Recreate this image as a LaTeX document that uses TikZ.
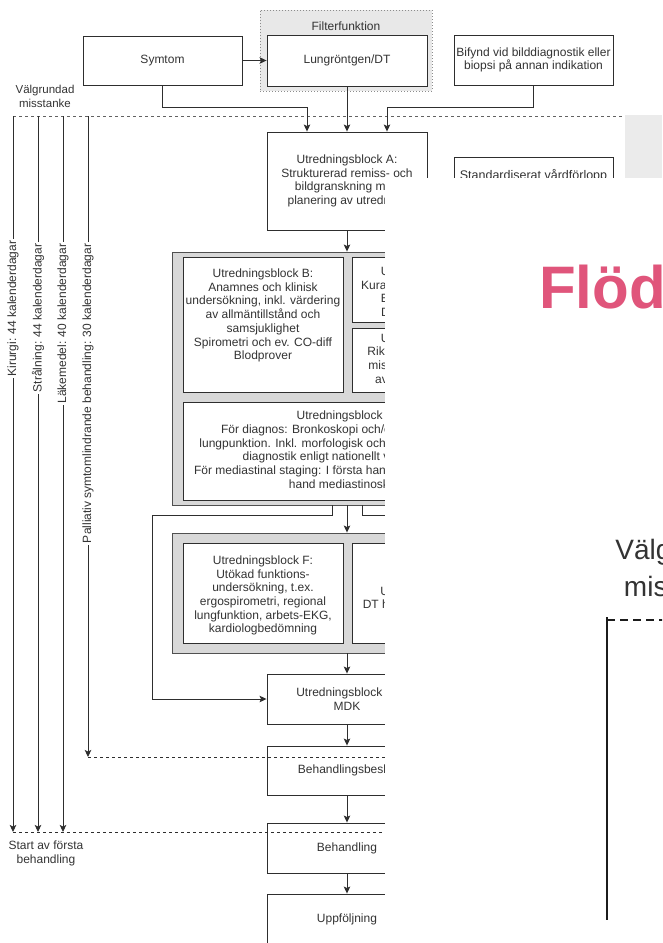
\documentclass[tikz,border=0pt]{standalone}
\usepackage{fontspec}
\setmainfont{Liberation Sans}
\usetikzlibrary{arrows.meta}

\definecolor{ink}{HTML}{333333}
\definecolor{edge}{HTML}{2E2E2E}
\definecolor{panel}{HTML}{D8D8D8}
\definecolor{panelline}{HTML}{505050}
\definecolor{filterfill}{HTML}{E8E8E8}
\definecolor{filterline}{HTML}{8C8C8C}
\definecolor{titlepink}{HTML}{E0557B}
\definecolor{cornergray}{HTML}{EBEBEB}
\definecolor{bigink}{HTML}{1C1C1C}

\tikzset{
  boxtxt/.style={font=\fontsize{12}{13.7}\selectfont, text=ink, align=center, inner sep=0pt},
  stepbox/.style={boxtxt, draw=edge, fill=white, line width=0.9pt,
                  minimum width=160pt, minimum height=50pt},
  group/.style={draw=panelline, fill=panel, line width=0.9pt, inner sep=0pt},
  flow/.style={draw=edge, line width=0.9pt, -{Stealth[length=7pt,width=6.5pt,inset=1.5pt]}},
  milestone/.style={draw=edge, line width=0.8pt, dash pattern=on 3pt off 3pt},
  spanlabel/.style={font=\fontsize{12}{13}\selectfont, text=ink, rotate=90, anchor=east,
                    fill=white, inner sep=1.5pt},
  sidelabel/.style={font=\fontsize{11.5}{13.7}\selectfont, text=ink, align=center, inner sep=0pt},
}

\begin{document}
\begin{tikzpicture}[x=1pt,y=-1pt]
\useasboundingbox (0,0) rectangle (662,943);
\clip (0,0) rectangle (662,943);

% ---------- entry points ----------
\node[draw=filterline, fill=filterfill, dotted, line width=1pt,
      minimum width=172pt, minimum height=81pt, inner sep=0pt] (filter) at (346,50.5) {};
\node[boxtxt] (filtertitle) at (346,26) {Filterfunktion};

\node[stepbox, minimum width=159pt, minimum height=49pt] (sym) at (162.5,60.5) {Symtom};
\node[stepbox, minimum height=51pt] (lung) at (347,60.5) {Lungröntgen/DT};
\node[stepbox, minimum width=159pt] (bif) at (533.5,60) {Bifynd vid bilddiagnostik eller\\biopsi på annan indikation};

\draw[flow] (sym) -- (lung);

% ---------- well-founded suspicion ----------
\node[sidelabel] (sustext) at (45,96.5) {Välgrundad\\misstanke};
\coordinate (susL) at (13,116);
\coordinate (susR) at (625,116);
\draw[milestone, draw=edge!75] (susL) -- (susR);
\fill[cornergray] (625,115) rectangle (662,178);

% ---------- block A ----------
\node[stepbox, minimum height=98pt] (A) at (347,181)
  {Utredningsblock A:\\Strukturerad remiss- och\\bildgranskning med\\planering av utredning};

\draw[flow] (sym.south) |- ([xshift=-40pt,yshift=24pt]A.north) -- ([xshift=-40pt]A.north);
\draw[flow] (lung) -- (A);
\draw[flow] (bif.south) |- ([xshift=40pt,yshift=24pt]A.north) -- ([xshift=40pt]A.north);

\node[draw=edge, fill=white, line width=0.9pt, minimum width=159pt, minimum height=52pt,
      inner sep=0pt] (svf) at (533.5,183) {};
\node[boxtxt, font=\fontsize{12.5}{14}\selectfont] (svftext) at (533.5,176) {Standardiserat vårdförlopp};

% ---------- blocks B to E ----------
\node[group, minimum width=350pt, minimum height=253pt] (grp1) at (347,378.5) {};
\draw[flow] (A) -- (grp1);

\node[stepbox, minimum height=135pt] (B) at (263,324.5) {};
\node[boxtxt] (Btext) at (263,315.5)
  {Utredningsblock B:\\Anamnes och klinisk\\undersökning, inkl. värdering\\av allmäntillstånd och\\samsjuklighet\\Spirometri och ev. CO-diff\\Blodprover};

\node[stepbox, minimum width=159pt, minimum height=65pt] (C) at (431.5,289.5) {};
\node[boxtxt] (Ctext) at (431.5,293)
  {Utredningsblock C:\\Kurativ behandling aktuell:\\EBUS och PET-DT\\DT eller MR hjärna};

\node[stepbox, minimum width=159pt, minimum height=64pt] (D) at (431.5,360) {};
\node[boxtxt] (Dtext) at (431.5,359.5)
  {Utredningsblock D:\\Riktad undersökning vid\\misstanke om spridning\\av sjukdomen i övrigt};

\node[stepbox, minimum width=328pt, minimum height=98pt] (E) at (347,451)
  {Utredningsblock E:\\För diagnos: Bronkoskopi och/eller transtorakal\\lungpunktion. Inkl. morfologisk och molekylärpatologisk\\diagnostik enligt nationellt vårdprogram\\För mediastinal staging: I första hand EBUS/EUS, i andra\\hand mediastinoskopi};

% ---------- blocks F and G ----------
\node[group, minimum width=350pt, minimum height=120pt] (grp2) at (347,593) {};
\draw[flow] (grp1) -- (grp2);

\node[stepbox, minimum height=100pt] (F) at (263,593) {};
\node[boxtxt] (Ftext) at (263,595.5)
  {Utredningsblock F:\\Utökad funktions-\\undersökning, t.ex.\\ergospirometri, regional\\lungfunktion, arbets-EKG,\\kardiologbedömning};

\node[stepbox, minimum width=159pt, minimum height=100pt] (G) at (431.5,593) {};
\node[boxtxt] (Gtext) at (431.5,599) {Utredningsblock G:\\DT hjärna eller MR hjärna};

% ---------- MDK and treatment ----------
\node[stepbox] (H) at (347,699) {Utredningsblock H:\\MDK};
\draw[flow] (grp2) -- (H);

\draw[flow] ([xshift=-15pt]grp1.south) -- ++(0,10) -| ([xshift=-114pt]H.west) -- (H.west);
\draw[flow] ([xshift=15pt]grp1.south) -- ++(0,10) -| ([xshift=113pt]H.east) -- (H.east);

\node[stepbox, minimum height=49pt] (beslut) at (347,770.5) {Behandlingsbeslut};
\draw[flow] (H) -- (beslut);

\node[stepbox] (beh) at (347,848) {Behandling};
\draw[flow] (beslut) -- (beh);

\node[stepbox] (upp) at (347,919) {Uppföljning};
\draw[flow] (beh) -- (upp);

% ---------- time limits ----------
\coordinate (decL) at (88,757);
\coordinate (decR) at (540,757);
\draw[milestone] (decL) -- (decR);

\coordinate (startL) at (13,832);
\coordinate (startR) at (540,832);
\draw[milestone] (startL) -- (startR);
\node[sidelabel, font=\fontsize{12}{13.5}\selectfont] (starttext) at (46,853.5) {Start av första\\behandling};

\coordinate (kirTop) at (13,116);   \coordinate (kirEnd) at (13,832);
\coordinate (strTop) at (38,116);   \coordinate (strEnd) at (38,832);
\coordinate (lakTop) at (63,116);   \coordinate (lakEnd) at (63,832);
\coordinate (palTop) at (88,116);   \coordinate (palEnd) at (88,757);

\draw[flow] (kirTop) -- (kirEnd);
\draw[flow] (strTop) -- (strEnd);
\draw[flow] (lakTop) -- (lakEnd);
\draw[flow] (palTop) -- (palEnd);

\node[spanlabel] (kirtext) at (13,239) {Kirurgi: 44 kalenderdagar};
\node[spanlabel] (strtext) at (38,242) {Strålning: 44 kalenderdagar};
\node[spanlabel] (laktext) at (63,242) {Läkemedel: 40 kalenderdagar};
\node[spanlabel] (paltext) at (88,242) {Palliativ symtomlindrande behandling: 30 kalenderdagar};

% ---------- enlarged inset ----------
\begin{scope}
  \clip (385,178) rectangle (662,943);
  \fill[white] (385,178) rectangle (662,943);
  \node[anchor=base west, inner sep=0pt, text=titlepink,
        font=\fontsize{60}{72}\selectfont\bfseries] (heading) at (539,308) {Flöd};
  \node[align=center, inner sep=0pt, text=ink, font=\fontsize{28}{37}\selectfont]
        (bigsus) at (687,568) {Välgrundad\\misstanke};
  \coordinate (zoomcorner) at (607,620);
  \coordinate (zoomright) at (668,620);
  \coordinate (zoomtop) at (607,617);
  \coordinate (zoombottom) at (607,920);
  \draw[draw=bigink, line width=2.2pt, dash pattern=on 8pt off 5pt] (zoomcorner) -- (zoomright);
  \draw[draw=bigink, line width=2.6pt] (zoomtop) -- (zoombottom);
\end{scope}
\end{tikzpicture}
\end{document}
